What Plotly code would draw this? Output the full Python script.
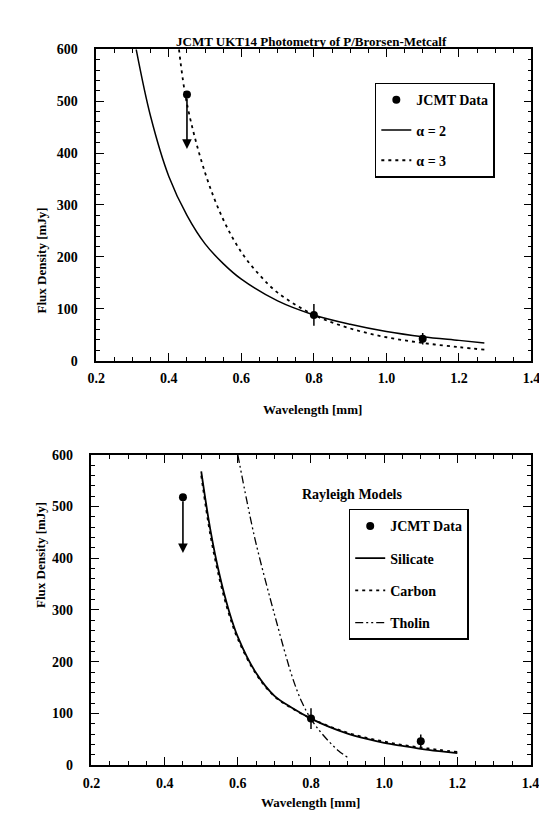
import plotly.graph_objects as go

# ---------------- data ----------------
# Top panel: power-law fits
wl_data = [0.45, 0.8, 1.1]
flux_top = [513, 88, 42]
err_top = [0, 21, 11]
top_limit_x = [0.45]
top_limit_from = [508]
top_limit_to = [408]

alpha2_x = [0.31, 0.35, 0.40, 0.45, 0.50, 0.55, 0.60, 0.70, 0.80, 0.90, 1.00, 1.10, 1.20, 1.27]
alpha2_y = [600, 470, 355, 280, 225, 187, 157, 115, 88, 70, 56, 46, 39, 34]
alpha3_x = [0.428, 0.45, 0.50, 0.55, 0.60, 0.65, 0.70, 0.80, 0.90, 1.00, 1.10, 1.20, 1.27]
alpha3_y = [600, 495, 362, 272, 209, 165, 131, 88, 62, 45, 34, 26, 21]

# Bottom panel: Rayleigh models
flux_bot = [518, 90, 46]
err_bot = [0, 20, 13]
bot_limit_x = [0.45]
bot_limit_from = [513]
bot_limit_to = [410]

silicate_x = [0.50, 0.525, 0.55, 0.575, 0.60, 0.65, 0.70, 0.75, 0.80, 0.85, 0.90, 0.95, 1.00, 1.05, 1.10, 1.15, 1.20]
silicate_y = [568, 455, 368, 300, 248, 178, 134, 110, 90, 74, 61, 51, 43, 37, 31.5, 27, 23]
carbon_x = [0.50, 0.525, 0.55, 0.575, 0.60, 0.65, 0.70, 0.75, 0.80, 0.85, 0.90, 0.95, 1.00, 1.05, 1.10, 1.15, 1.20]
carbon_y = [560, 445, 360, 294, 244, 176, 133, 109, 90, 75, 62.5, 53, 45.5, 39, 34, 29.5, 25.5]
tholin_x = [0.60, 0.625, 0.65, 0.70, 0.75, 0.775, 0.80, 0.825, 0.85, 0.875, 0.90]
tholin_y = [600, 510, 428, 292, 168, 122, 89, 65, 45, 28, 15]

x_ticks = [0.2, 0.4, 0.6, 0.8, 1.0, 1.2, 1.4]
x_ticktext = ["0.2", "0.4", "0.6", "0.8", "1.0", "1.2", "1.4"]
y_ticks = [0, 100, 200, 300, 400, 500, 600]

# ---------------- figure ----------------
W, H = 547, 825
FONT = "Liberation Serif"
BLACK = "black"


def px_x(p):
    return p / W


def px_y(p):
    return 1 - p / H


fig = go.Figure()

# top panel traces
fig.add_trace(go.Scatter(x=wl_data, y=flux_top, mode="markers", marker=dict(color=BLACK, size=8),
                         error_y=dict(type="data", array=err_top, visible=True, color=BLACK, thickness=1.5, width=0),
                         name="JCMT Data", xaxis="x", yaxis="y", legend="legend", legendgroup="a1"))
fig.add_trace(go.Scatter(x=alpha2_x, y=alpha2_y, mode="lines", line=dict(color=BLACK, width=1.5, shape="spline"),
                         name="α = 2", xaxis="x", yaxis="y", legend="legend", legendgroup="a2"))
fig.add_trace(go.Scatter(x=alpha3_x, y=alpha3_y, mode="lines", line=dict(color=BLACK, width=1.8, dash="3px,4px", shape="spline"),
                         name="α = 3", xaxis="x", yaxis="y", legend="legend", legendgroup="a3"))

# bottom panel traces
fig.add_trace(go.Scatter(x=wl_data, y=flux_bot, mode="markers", marker=dict(color=BLACK, size=8),
                         error_y=dict(type="data", array=err_bot, visible=True, color=BLACK, thickness=1.5, width=0),
                         name="JCMT Data", xaxis="x2", yaxis="y2", legend="legend2", legendgroup="b1"))
fig.add_trace(go.Scatter(x=silicate_x, y=silicate_y, mode="lines", line=dict(color=BLACK, width=1.8, shape="spline"),
                         name="Silicate", xaxis="x2", yaxis="y2", legend="legend2", legendgroup="b2"))
fig.add_trace(go.Scatter(x=carbon_x, y=carbon_y, mode="lines", line=dict(color=BLACK, width=1.8, dash="3px,4px", shape="spline"),
                         name="Carbon", xaxis="x2", yaxis="y2", legend="legend2", legendgroup="b3"))
fig.add_trace(go.Scatter(x=tholin_x, y=tholin_y, mode="lines",
                         line=dict(color=BLACK, width=1.3, dash="8px,3px,2px,3px,2px,3px", shape="spline"),
                         name="Tholin", xaxis="x2", yaxis="y2", legend="legend2", legendgroup="b4"))

# upper-limit arrows
annotations = []
for lx, lf, lt, xr, yr in [(top_limit_x, top_limit_from, top_limit_to, "x", "y"),
                           (bot_limit_x, bot_limit_from, bot_limit_to, "x2", "y2")]:
    for a, b, c in zip(lx, lf, lt):
        annotations.append(dict(x=a, y=c, ax=a, ay=b, xref=xr, yref=yr, axref=xr, ayref=yr,
                                showarrow=True, arrowhead=2, arrowsize=1.2, arrowwidth=1.6,
                                arrowcolor=BLACK, text=""))

TF = dict(family=FONT, size=14, color=BLACK, weight="bold")
LF = dict(family=FONT, size=13, color=BLACK, weight="bold")

axis_common = dict(
    showline=True, linecolor=BLACK, linewidth=1.5, mirror="ticks",
    ticks="inside", ticklen=8, tickwidth=1.3, tickcolor=BLACK,
    showgrid=False, zeroline=False, tickfont=TF,
)

xcommon = dict(axis_common, range=[0.2, 1.4], tickvals=x_ticks, ticktext=x_ticktext, ticklabelstandoff=4,
               minor=dict(dtick=0.05, tick0=0.2, ticks="inside", ticklen=4, tickwidth=1, tickcolor=BLACK, showgrid=False))
ycommon = dict(axis_common, range=[0, 600], tickvals=y_ticks, ticklabelstandoff=14,
               minor=dict(dtick=20, tick0=0, ticks="inside", ticklen=4, tickwidth=1, tickcolor=BLACK, showgrid=False))

# axis titles and panel texts
annotations += [
    dict(text="JCMT UKT14 Photometry of P/Brorsen-Metcalf", x=px_x(305), y=px_y(17),
         xref="paper", yref="paper", showarrow=False, font=dict(family=FONT, size=13, color=BLACK, weight="bold")),
    dict(text="Wavelength [mm]", x=px_x(306), y=px_y(402), xref="paper", yref="paper", showarrow=False, font=LF),
    dict(text="Wavelength [mm]", x=px_x(304), y=px_y(812), xref="paper", yref="paper", showarrow=False, font=LF),
    dict(text="Flux Density [mJy]", x=px_x(15), y=px_y(194), xref="paper", yref="paper", showarrow=False,
         textangle=-90, font=LF),
    dict(text="Flux Density [mJy]", x=px_x(15), y=px_y(606), xref="paper", yref="paper", showarrow=False,
         textangle=-90, font=LF),
    dict(text="Rayleigh Models", x=px_x(400), y=px_y(488), xref="paper", yref="paper", showarrow=False,
         font=dict(family=FONT, size=14, color=BLACK, weight="bold")),
]

legend_common = dict(xanchor="left", yanchor="top", bordercolor=BLACK, borderwidth=1.5, bgcolor="white",
                     font=dict(family=FONT, size=14, color=BLACK, weight="bold"), itemwidth=30)

fig.update_layout(
    width=W, height=H,
    margin=dict(l=0, r=0, t=0, b=0),
    paper_bgcolor="white", plot_bgcolor="white",
    showlegend=True,
    xaxis=dict(xcommon, domain=[px_x(82), px_x(532)], anchor="y"),
    yaxis=dict(ycommon, domain=[px_y(352), px_y(35)], anchor="x"),
    xaxis2=dict(xcommon, domain=[px_x(77), px_x(531)], anchor="y2"),
    yaxis2=dict(ycommon, domain=[px_y(764), px_y(448)], anchor="x2"),
    legend=dict(legend_common, x=px_x(370), y=px_y(69), tracegroupgap=9),
    legend2=dict(legend_common, x=px_x(343), y=px_y(503), tracegroupgap=11),
    annotations=annotations,
)

fig.write_html("out.html")
